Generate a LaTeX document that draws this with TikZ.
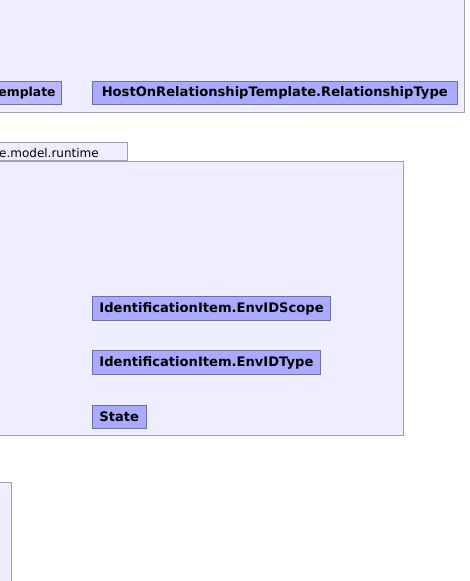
\documentclass[tikz,border=0pt]{standalone}
\usepackage{fontspec}
\setmainfont{DejaVu Sans}
\usetikzlibrary{positioning}
\definecolor{pkgfill}{RGB}{238,238,255}
\definecolor{pkgline}{RGB}{160,160,180}
\definecolor{clsfill}{RGB}{170,170,255}
\definecolor{clsline}{RGB}{110,110,170}
\definecolor{clsfaded}{RGB}{184,184,250}

\begin{document}
\begin{tikzpicture}[
    x=1pt, y=-1pt,
    font=\fontsize{12}{14}\selectfont,
    pkg/.style={rectangle, draw=pkgline, fill=pkgfill, line width=1pt, inner sep=0pt},
    cls/.style={rectangle, draw=clsline, fill=clsfill, line width=0.8pt,
                font=\bfseries\fontsize{13.1}{15}\selectfont,
                minimum height=23.5pt, inner xsep=7pt, inner ysep=0pt},
    faded/.style={cls, fill=clsfaded, font=\bfseries\fontsize{12.4}{14}\selectfont}
]
\useasboundingbox (0,0) rectangle (469,581);
\clip (0,0) rectangle (469,581);

% Top package (cut off at the top and left)
\node[pkg, anchor=south east, minimum width=485pt, minimum height=133pt] (pkgtop) at (465.3,113.3) {};
\node[faded, anchor=east, inner xsep=6pt] (tmpl) at (62,92.7) {emplate};
\node[cls, right=30pt of tmpl, minimum width=364.7pt] (hostrel) {HostOnRelationshipTemplate.RelationshipType};

% Runtime package with its tab
\node[pkg, anchor=south west, minimum width=156.7pt, minimum height=17.4pt] (rttab) at (-30,160.7) {};
\node[anchor=base east, inner sep=0pt] (rtname) at ([xshift=-28.7pt, yshift=3.4pt]rttab.south east) {e.model.runtime};
\node[pkg, anchor=north west, minimum width=422.7pt, minimum height=274.6pt] (pkgrt) at (-20,160.7) {};

\node[cls, anchor=north west, minimum width=236.7pt, minimum height=24pt] (scope) at (92,296) {IdentificationItem.EnvIDScope};
\node[cls, below=29.3pt of scope.south west, anchor=north west, minimum width=226.7pt, minimum height=24pt] (envtype) {IdentificationItem.EnvIDType};
\node[cls, below=30pt of envtype.south west, anchor=north west, minimum width=49.7pt] (state) {State};

% Bottom package (only its right edge shows)
\node[pkg, anchor=north east, minimum width=31.7pt, minimum height=130pt] (pkgbot) at (11.7,482.3) {};
\end{tikzpicture}
\end{document}
